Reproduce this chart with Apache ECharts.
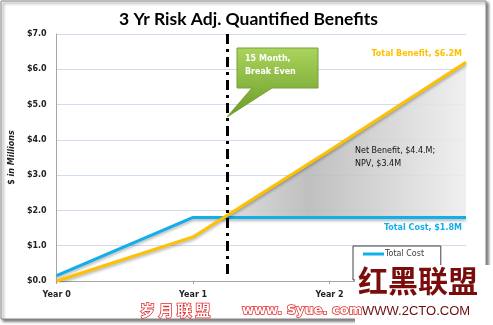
<!DOCTYPE html>
<html><head><meta charset="utf-8">
<script src="https://cdn.jsdelivr.net/npm/echarts@6/dist/echarts.min.js"></script>
<style>html,body{margin:0;padding:0;background:#fff}#c{width:493px;height:325px}</style>
</head><body><div id="c"></div>
<script>
// ---- data ----
const xYears = [0, 1, 2, 3];
const xLabels = ['Year 0', 'Year 1', 'Year 2', 'Year 3'];
const totalCost = [0.15, 1.8, 1.8, 1.8];
const totalBenefit = [0, 1.25, 3.7, 6.2];
const yTicks = [0, 1, 2, 3, 4, 5, 6, 7];
const breakEvenYear = 1.25;
const seriesNames = ['Total Cost', 'Total Benefit'];
const titleText = '3 Yr Risk Adj. Quantified Benefits';
const yAxisName = ['$', 'in Millions'];
const benefitLabel = 'Total Benefit, $6.2M';
const costLabel = 'Total Cost, $1.8M';
const netLabel = ['Net Benefit, $4.4.M;', 'NPV, $3.4M'];
const calloutLabel = ['15 Month,', 'Break Even'];

// ---- derived ----
const costPts = xYears.map((x, i) => [x, totalCost[i]]);
const benefitPts = xYears.map((x, i) => [x, totalBenefit[i]]);
let areaPts = [];
for (let i = 1; i < xYears.length; i++) {
  const d0 = totalBenefit[i - 1] - totalCost[i - 1], d1 = totalBenefit[i] - totalCost[i];
  if (d0 < 0 && d1 >= 0) {
    const t = -d0 / (d1 - d0);
    const x = xYears[i - 1] + t * (xYears[i] - xYears[i - 1]);
    const y = totalCost[i - 1] + t * (totalCost[i] - totalCost[i - 1]);
    areaPts.push([x, y]);
  }
  if (areaPts.length && d1 >= 0) areaPts.push([xYears[i], totalBenefit[i]]);
}
const costLevel = totalCost[totalCost.length - 1];

const chart = echarts.init(document.getElementById('c'));
const lblFont = 'DejaVu Sans';
chart.setOption({
  animation: false,
  backgroundColor: '#fff',
  title: {
    text: titleText, left: 114, top: 5,
    textStyle: { fontFamily: 'Lato', fontWeight: 'bold', fontSize: 17.5, color: '#000' }
  },
  grid: { left: 53, right: 27, top: 34, bottom: 44 },
  legend: {
    data: seriesNames, orient: 'vertical', left: 353, top: 246,
    padding: [4, 6, 4, 10], itemGap: 10, itemWidth: 21, itemHeight: 3,
    icon: 'rect', borderColor: '#404040', borderWidth: 1, backgroundColor: '#fff',
    textStyle: { fontFamily: lblFont, fontSize: 8, color: '#404040', padding: [0, 0, 0, -4] }
  },
  xAxis: {
    type: 'value', min: 0, max: 3, interval: 1,
    axisLine: { show: true, lineStyle: { color: '#a6a6a6', width: 1 } },
    axisTick: { show: true, length: 3, inside: false, lineStyle: { color: '#a6a6a6' } },
    splitLine: { show: false },
    axisLabel: {
      margin: 10, fontFamily: lblFont, fontWeight: 'bold', fontSize: 8, color: '#222',
      formatter: v => xLabels[xYears.indexOf(v)] || ''
    }
  },
  yAxis: {
    type: 'value', min: yTicks[0], max: yTicks[yTicks.length - 1], interval: 1,
    name: '{a|' + yAxisName[0] + ' }{b|' + yAxisName[1] + '}',
    nameLocation: 'middle', nameGap: 33,
    nameTextStyle: {
      rich: {
        a: { fontFamily: lblFont, fontWeight: 'bold', fontSize: 8, color: '#222' },
        b: { fontFamily: lblFont, fontWeight: 'bold', fontStyle: 'italic', fontSize: 8, color: '#222' }
      }
    },
    axisLine: { show: true, lineStyle: { color: '#a6a6a6', width: 1 } },
    axisTick: { show: false },
    splitLine: { show: true, lineStyle: { color: '#cfdcef', width: 1 } },
    axisLabel: {
      margin: 10, fontFamily: lblFont, fontWeight: 'bold', fontSize: 8, color: '#222',
      formatter: v => '$' + v.toFixed(1)
    }
  },
  series: [
    {
      name: 'Net Area', type: 'line', data: areaPts, symbol: 'none', silent: true,
      lineStyle: { width: 0 }, z: 1,
      areaStyle: {
        origin: costLevel, opacity: 0.9,
        color: new echarts.graphic.LinearGradient(0, 0, 1, 0, [
          { offset: 0, color: '#dadada' },
          { offset: 0.35, color: '#b9b9b9' },
          { offset: 1, color: '#eeeeee' }
        ])
      }
    },
    {
      name: seriesNames[0], type: 'line', data: costPts, symbol: 'none', color: '#12aeea',
      lineStyle: { width: 3, color: '#12aeea', shadowColor: 'rgba(0,0,0,0.3)', shadowBlur: 3, shadowOffsetY: 2 },
      z: 3
    },
    {
      name: seriesNames[1], type: 'line', data: benefitPts, symbol: 'none', color: '#ffc000',
      lineStyle: { width: 3, color: '#ffc000', shadowColor: 'rgba(0,0,0,0.3)', shadowBlur: 3, shadowOffsetY: 2 },
      z: 4,
      markLine: {
        silent: true, symbol: 'none', label: { show: false },
        lineStyle: { color: '#000', width: 3, type: [10, 5, 3, 5] },
        data: [[{ coord: [breakEvenYear, yTicks[yTicks.length - 1]] }, { coord: [breakEvenYear, 0.1] }]]
      }
    }
  ],
  graphic: [
    {
      type: 'rect', z: -100, silent: true,
      shape: { x: 1, y: 1, width: 485, height: 318 },
      style: { fill: '#fff', stroke: '#8a8a8a', lineWidth: 1, shadowColor: 'rgba(0,0,0,0.55)', shadowBlur: 3, shadowOffsetX: 2, shadowOffsetY: 2 }
    },
    {
      type: 'text', z: 100, silent: true, x: 462, y: 50,
      style: { text: benefitLabel, fill: '#ffc000', font: 'bold 8px DejaVu Sans', align: 'right' }
    },
    {
      type: 'text', z: 100, silent: true, x: 462, y: 224,
      style: { text: costLabel, fill: '#12aeea', font: 'bold 8px DejaVu Sans', align: 'right' }
    },
    {
      type: 'text', z: 100, silent: true, x: 355, y: 144,
      style: { text: netLabel.join('\n'), fill: '#111', font: '8px DejaVu Sans', lineHeight: 13 }
    },
    {
      type: 'polygon', z: 100, silent: true,
      shape: { points: [[237, 48], [318, 48], [318, 88], [272, 88], [227, 117], [252, 88], [237, 88]] },
      style: {
        fill: new echarts.graphic.LinearGradient(0, 0, 0, 1, [
          { offset: 0, color: '#aad45e' },
          { offset: 1, color: '#6a9c26' }
        ]),
        stroke: '#76a035', lineWidth: 1
      }
    },
    {
      type: 'text', z: 101, silent: true, x: 245, y: 53,
      style: { text: calloutLabel.join('\n'), fill: '#fff', font: 'bold 8px DejaVu Sans', lineHeight: 12.5 }
    },
    // watermarks
    {
      type: 'rect', z: 200, silent: true,
      shape: { x: 355, y: 265, width: 138, height: 60 }, style: { fill: '#fff' }
    },
    {
      type: 'text', z: 201, silent: true, x: 358, y: 266,
      style: { text: '红黑联盟', fill: '#7a0c0c', font: 'bold 30px "Noto Sans CJK SC"' }
    },
    {
      type: 'text', z: 201, silent: true, x: 362, y: 305,
      style: { text: 'WWW.2CTO.COM', fill: '#6e0f0f', font: '13px Liberation Sans' }
    },
    {
      type: 'text', z: 201, silent: true, x: 140, y: 303,
      style: { text: '岁 月 联 盟', fill: '#fff', stroke: '#e02a2a', lineWidth: 1.5, font: 'bold 15px "Noto Sans CJK SC"' }
    },
    {
      type: 'text', z: 201, silent: true, x: 242, y: 304,
      style: { text: 'www. Syue. com', fill: '#fff', stroke: '#e02a2a', lineWidth: 1.5, font: 'bold 13px DejaVu Sans' }
    }
  ]
});
</script>
</body></html>
